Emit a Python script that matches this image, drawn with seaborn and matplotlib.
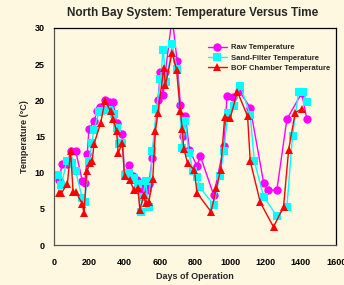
import matplotlib
matplotlib.use("Agg")
import matplotlib.pyplot as plt
import seaborn as sns
import pandas as pd

raw_days = [30, 45, 75, 95, 123, 160, 174, 189, 198, 226, 245, 260, 290, 310, 336, 355, 387,
            400, 428, 450, 472, 491, 510, 528, 538, 557, 589, 604, 619, 632, 670, 698, 717,
            732, 745, 768, 811, 830, 906, 964, 981, 1015, 1050, 1113, 1189, 1215, 1264,
            1321, 1405, 1434]
raw_temp = [9.0, 11.2, 11.2, 13.0, 13.0, 8.9, 8.6, 12.6, 16.0, 17.1, 18.5, 19.1, 20.1, 19.8,
            19.7, 16.8, 15.4, 10.0, 11.0, 9.5, 9.0, 7.4, 8.0, 7.6, 8.5, 12.0, 20.0, 23.9,
            20.8, 23.9, 31.5, 25.5, 19.4, 15.1, 17.9, 13.2, 10.9, 12.3, 6.9, 13.7, 20.6,
            20.5, 21.3, 19.0, 8.6, 7.6, 7.6, 17.4, 21.0, 17.4]

sand_days = [25, 42, 72, 85, 104, 123, 160, 174, 198, 215, 226, 255, 264, 311, 340, 355,
             368, 387, 400, 424, 453, 475, 491, 505, 519, 538, 557, 581, 604, 619, 638, 670,
             698, 727, 745, 764, 789, 811, 826, 906, 940, 964, 985, 1019, 1057, 1113, 1136,
             1189, 1264, 1321, 1353, 1387, 1415, 1434]
sand_temp = [9.7, 8.3, 11.6, 11.6, 11.3, 10.2, 6.5, 6.0, 11.6, 14.1, 15.9, 18.4, 18.5, 18.6,
             18.1, 16.2, 13.9, 14.1, 9.7, 10.0, 9.3, 8.5, 4.6, 6.7, 8.8, 5.3, 13.0, 18.8,
             22.9, 27.0, 22.5, 27.8, 24.3, 13.4, 17.1, 12.7, 10.2, 9.4, 8.0, 5.6, 9.5, 13.0,
             18.2, 19.2, 22.0, 18.0, 11.6, 6.7, 4.0, 5.3, 15.1, 21.2, 21.2, 19.7]

bof_days = [28, 42, 76, 94, 108, 123, 160, 170, 185, 204, 217, 226, 264, 289, 321, 336,
            355, 364, 387, 400, 430, 453, 475, 487, 509, 519, 538, 560, 575, 589, 623, 632,
            670, 695, 717, 727, 736, 758, 796, 811, 891, 921, 945, 968, 1000, 1040, 1098,
            1113, 1170, 1245, 1302, 1331, 1368, 1405]
bof_temp = [7.2, 7.2, 8.5, 13.0, 7.4, 7.4, 5.7, 4.4, 10.2, 11.3, 11.6, 13.9, 16.8, 19.9,
            18.5, 17.4, 15.7, 12.7, 14.1, 9.5, 9.0, 7.6, 7.9, 4.9, 6.9, 5.8, 6.0, 9.1, 15.7,
            18.2, 24.5, 22.1, 26.6, 24.2, 18.5, 16.1, 13.3, 11.3, 10.4, 7.2, 4.6, 7.9, 10.4,
            17.7, 17.6, 21.2, 17.8, 11.6, 5.9, 2.5, 5.3, 13.2, 18.3, 18.8]

series_names = ["Raw Temperature", "Sand-Filter Temperature", "BOF Chamber Temperature"]
x_ticks = [0, 200, 400, 600, 800, 1000, 1200, 1400, 1600]
y_ticks = [0, 5, 10, 15, 20, 25, 30]

sns.set_style("white")
plt.rcParams["font.family"] = ["Liberation Sans", "DejaVu Sans"]
plt.rcParams["font.weight"] = "bold"

bg = "#FFF8E1"
fig = plt.figure(figsize=(3.44, 2.85), dpi=100, facecolor=bg)
ax = fig.add_axes([0.157, 0.140, 0.820, 0.762])
ax.set_facecolor(bg)

styles = [
    (raw_days, raw_temp, "#FF00FF", "o", 6.0),
    (sand_days, sand_temp, "#00FFFF", "s", 5.5),
    (bof_days, bof_temp, "#FF0000", "^", 6.0),
]
for name, (d, t, c, m, ms) in zip(series_names, styles):
    df = pd.DataFrame({"Days": d, "Temp": t})
    sns.lineplot(data=df, x="Days", y="Temp", ax=ax, color=c, marker=m, markersize=ms,
                 markeredgecolor=c, markeredgewidth=0, linewidth=1.0, sort=False,
                 label=name, estimator=None)

ax.set_xlim(0, 1600)
ax.set_ylim(0, 30)
ax.set_xticks(x_ticks)
ax.set_yticks(y_ticks)
ax.tick_params(axis="x", labelsize=6.5, length=3, width=0.8, direction="in",
               colors="#444444", labelcolor="black", pad=9)
ax.tick_params(axis="y", labelsize=6.5, length=3, width=0.8, direction="out",
               colors="#444444", labelcolor="black")
for lbl in ax.get_xticklabels() + ax.get_yticklabels():
    lbl.set_fontweight("bold")
for side, s in ax.spines.items():
    s.set_color("black" if side in ("top", "right") else "#555555")
    s.set_linewidth(0.9)

ax.set_xlabel("Days of Operation", fontsize=6.5, fontweight="bold", labelpad=4)
ax.set_ylabel("Temperature (\u00b0C)", fontsize=6.5, fontweight="bold", labelpad=4)
fig.suptitle("North Bay System: Temperature Versus Time", x=0.56, y=0.975,
             fontsize=8.5, fontweight="bold")

leg = ax.legend(loc="upper right", bbox_to_anchor=(1.0, 0.95), frameon=False,
                fontsize=5.5, handlelength=2.5, labelspacing=0.35, borderaxespad=0.3,
                handletextpad=0.6)
for txt in leg.get_texts():
    txt.set_fontweight("bold")

fig.savefig("out.png", dpi=100, facecolor=bg)
